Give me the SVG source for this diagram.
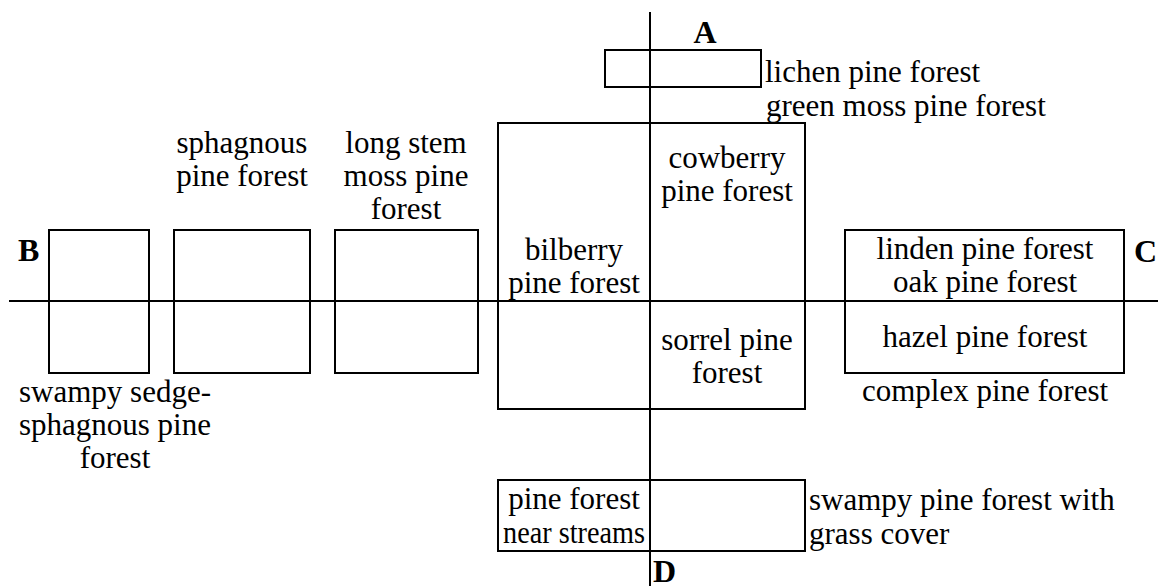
<svg xmlns="http://www.w3.org/2000/svg" width="1158" height="586" viewBox="0 0 1158 586">
<style>
.box{fill:none;stroke:#000;stroke-width:2}
.ax{stroke:#000;stroke-width:2}
text{font-family:"Liberation Serif","Times New Roman",serif;font-size:31px;fill:#000}
.c{text-anchor:middle}
.b{font-weight:bold;font-size:32px}
</style>
<rect width="1158" height="586" fill="#fff"/>
<g id="connectors">
<line class="ax" x1="650" y1="12" x2="650" y2="586"/>
<line class="ax" x1="9" y1="301" x2="1158" y2="301"/>
</g>
<g id="axis-labels">
<text class="b c" x="705" y="43">A</text>
<text class="b" x="18" y="261">B</text>
<text class="b" x="1134" y="262">C</text>
<text class="b" x="653" y="582">D</text>
</g>
<g id="lichen">
<rect class="box" x="605" y="50" width="156" height="37"/>
<text x="765" y="82">lichen pine forest</text>
<text x="766" y="116">green moss pine forest</text>
</g>
<g id="swampy-sedge">
<rect class="box" x="49" y="230" width="100" height="143"/>
<text class="c" x="115" y="402">swampy sedge-</text>
<text class="c" x="115" y="435">sphagnous pine</text>
<text class="c" x="115" y="468">forest</text>
</g>
<g id="sphagnous">
<rect class="box" x="174" y="230" width="136" height="143"/>
<text class="c" x="242" y="153">sphagnous</text>
<text class="c" x="242" y="186">pine forest</text>
</g>
<g id="long-stem">
<rect class="box" x="335" y="230" width="143" height="143"/>
<text class="c" x="406" y="153">long stem</text>
<text class="c" x="406" y="186">moss pine</text>
<text class="c" x="406" y="219">forest</text>
</g>
<g id="bilberry-cowberry-sorrel">
<rect class="box" x="498" y="123" width="307" height="286"/>
<text class="c" x="574" y="260">bilberry</text>
<text class="c" x="574" y="293">pine forest</text>
<text class="c" x="727" y="168">cowberry</text>
<text class="c" x="727" y="201">pine forest</text>
<text class="c" x="727" y="350">sorrel pine</text>
<text class="c" x="727" y="383">forest</text>
</g>
<g id="linden-oak-hazel">
<rect class="box" x="845" y="230" width="279" height="143"/>
<text class="c" x="985" y="259">linden pine forest</text>
<text class="c" x="985" y="292">oak pine forest</text>
<text class="c" x="985" y="347">hazel pine forest</text>
<text class="c" x="985" y="401">complex pine forest</text>
</g>
<g id="streams">
<rect class="box" x="498" y="480" width="307" height="71"/>
<text class="c" x="574" y="509">pine forest</text>
<text class="c" x="574" y="543" textLength="142" lengthAdjust="spacingAndGlyphs">near streams</text>
<text x="809" y="510">swampy pine forest with</text>
<text x="809" y="544">grass cover</text>
</g>
</svg>
